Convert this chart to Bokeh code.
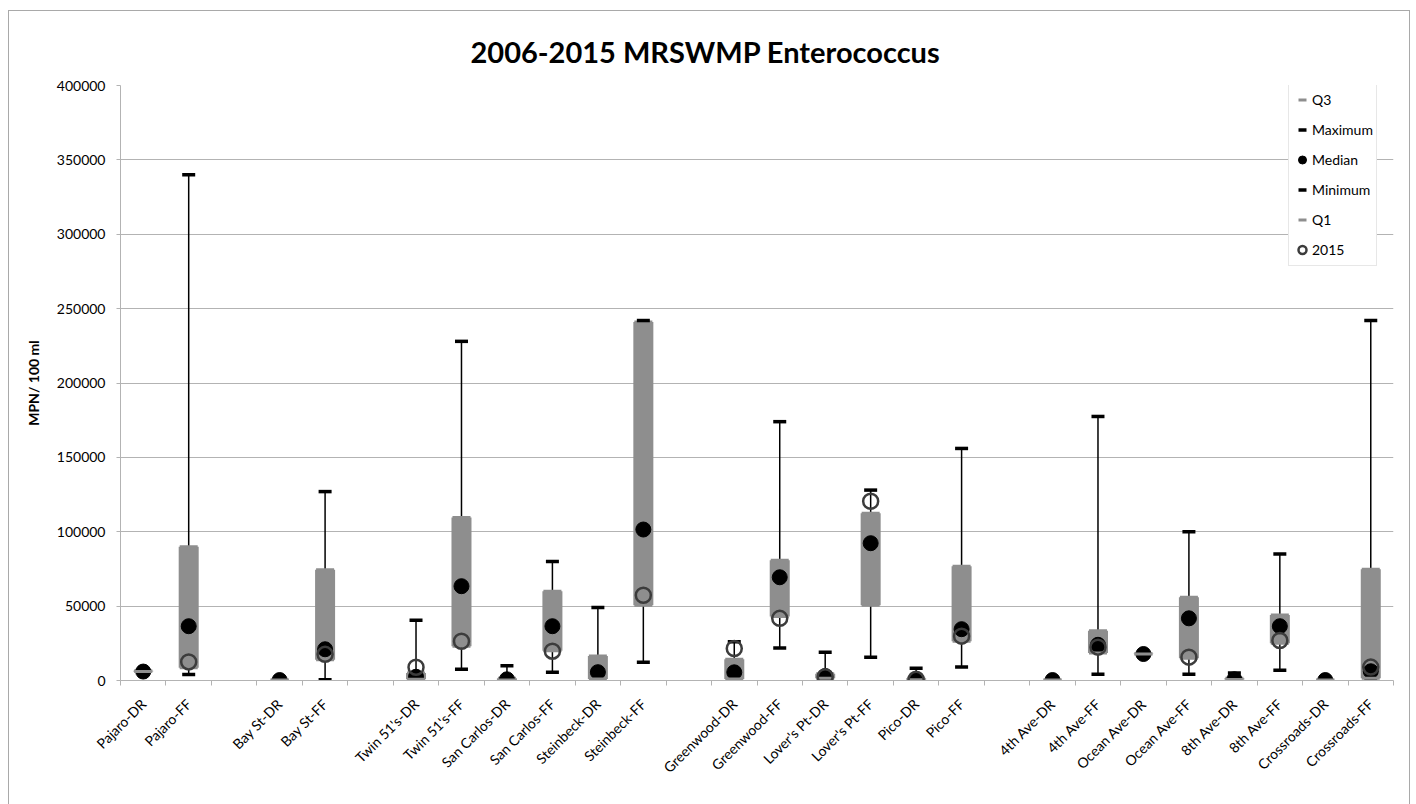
import math
import numpy as np
from bokeh.plotting import figure
from bokeh.models import (ColumnDataSource, FixedTicker, Legend, LegendItem,
                          Range1d, Title, BasicTickFormatter)
from bokeh.embed import file_html
from bokeh.resources import INLINE

# ---- data ----
categories = ["Pajaro-DR", "Pajaro-FF", "", "Bay St-DR", "Bay St-FF", "",
              "Twin 51's-DR", "Twin 51's-FF", "San Carlos-DR", "San Carlos-FF",
              "Steinbeck-DR", "Steinbeck-FF", "", "Greenwood-DR", "Greenwood-FF",
              "Lover's Pt-DR", "Lover's Pt-FF", "Pico-DR", "Pico-FF", "",
              "4th Ave-DR", "4th Ave-FF", "Ocean Ave-DR", "Ocean Ave-FF",
              "8th Ave-DR", "8th Ave-FF", "Crossroads-DR", "Crossroads-FF"]

minimum = [5500, 4000, None, 200, 500, None, 300, 7500, 200, 5600, 500, 12300,
           None, 500, 21900, 500, 15700, 200, 9000, None, 200, 4200, 17500, 4200,
           500, 6900, 200, 500]
q1 = [6000, 8500, None, 300, 14000, None, 800, 23000, 400, 20000, 1000, 50600,
      None, 1000, 43000, 1500, 50600, 500, 26400, None, 300, 18500, 17800, 15000,
      700, 25000, 300, 1500]
median = [6000, 36500, None, 300, 21000, None, 2500, 63400, 800, 36500, 5600, 101500,
          None, 5500, 69400, 3000, 92300, 500, 34500, None, 300, 24000, 17800, 41800,
          800, 36500, 300, 6200]
q3 = [6500, 90000, None, 400, 74500, None, 5000, 109500, 1500, 60000, 16500, 241000,
      None, 14300, 80800, 4500, 112500, 1500, 76800, None, 400, 33500, 18000, 56000,
      1500, 44000, 400, 74800]
maximum = [7000, 340000, None, 600, 127000, None, 40500, 228000, 10000, 80000, 49000, 242000,
           None, 26000, 174000, 19000, 128000, 8300, 156000, None, 500, 177500, 18200, 100000,
           5000, 85000, 500, 242000]
y2015 = [None, 12500, None, None, 17600, None, 8900, 26400, None, 19700, None, 57300,
         None, 21500, 41800, 2500, 120500, 800, 29800, None, None, 22400, None, 15700,
         None, 26900, None, 9000]

y_ticks = [0, 50000, 100000, 150000, 200000, 250000, 300000, 350000, 400000]


def arr(v):
    return [np.nan if a is None else a for a in v]


xs = [i + 0.5 for i in range(len(categories))]
src = ColumnDataSource(dict(x=xs, mn=arr(minimum), q1=arr(q1), med=arr(median),
                            q3=arr(q3), mx=arr(maximum), y15=arr(y2015)))

FONT = "Lato"
GRID = "#b3b3b3"
BOX = "#8e8e8e"

p = figure(width=1402, height=794, x_range=Range1d(0, len(categories)),
           y_range=Range1d(0, 400000), output_backend="svg", toolbar_location=None,
           min_border_left=111, min_border_right=18, min_border_top=74,
           min_border_bottom=125)
p.margin = (10, 0, 0, 8)
p.styles = {"border-left": "1px solid #a9a9a9", "border-top": "1px solid #a9a9a9",
            "border-right": "1px solid #a9a9a9"}
p.outline_line_color = None
p.background_fill_color = "white"

p.title = Title(text="2006-2015 MRSWMP Enterococcus", align="left",
                text_font=FONT, text_font_size="29px", text_font_style="bold",
                text_color="black", offset=350, standoff=34)

# whiskers (high-low lines)
p.segment(x0="x", y0="mn", x1="x", y1="mx", source=src, line_color="black",
          line_width=1.5)
# boxes (Q1..Q3)
p.vbar(x="x", bottom="q1", top="q3", width=0.44, source=src, fill_color=BOX,
       line_color=None)

# series in Excel order: Q3, Maximum, Median, Minimum, Q1, 2015
r_q3 = p.scatter(x="x", y="q3", source=src, marker="dash", size=18,
                 line_color=BOX, line_width=3)
r_max = p.scatter(x="x", y="mx", source=src, marker="dash", size=13,
                  line_color="black", line_width=3.5)
r_med = p.scatter(x="x", y="med", source=src, marker="circle", size=15,
                  fill_color="black", line_color="black")
r_min = p.scatter(x="x", y="mn", source=src, marker="dash", size=13,
                  line_color="black", line_width=3.5)
r_q1 = p.scatter(x="x", y="q1", source=src, marker="dash", size=18,
                 line_color=BOX, line_width=3)
r_15 = p.scatter(x="x", y="y15", source=src, marker="circle", size=15,
                 fill_color=None, line_color="#3c3c3c", line_width=2.5)

legend = Legend(items=[LegendItem(label="Q3", renderers=[r_q3]),
                       LegendItem(label="Maximum", renderers=[r_max]),
                       LegendItem(label="Median", renderers=[r_med]),
                       LegendItem(label="Minimum", renderers=[r_min]),
                       LegendItem(label="Q1", renderers=[r_q1]),
                       LegendItem(label="2015", renderers=[r_15])],
                margin=0, padding=3, spacing=5,
                glyph_width=20, glyph_height=25, label_height=25,
                label_standoff=0, label_text_font=FONT,
                label_text_font_size="14px", label_text_color="black",
                border_line_color="#d0d0d0", border_line_width=1,
                background_fill_color="white", background_fill_alpha=1.0)
p.add_layout(legend)
legend.location = (1168, 414)

# x axis
named = [xs[i] for i, c in enumerate(categories) if c]
p.xaxis.ticker = FixedTicker(ticks=named,
                             minor_ticks=list(range(len(categories) + 1)))
p.xaxis.major_label_overrides = {xs[i]: c for i, c in enumerate(categories) if c}
p.xaxis.major_label_orientation = math.pi / 4
p.xaxis.major_tick_out = 0
p.xaxis.major_tick_in = 0
p.xaxis.minor_tick_out = 5
p.xaxis.minor_tick_in = 0
p.xaxis.minor_tick_line_color = GRID
p.xaxis.axis_line_color = GRID
p.xaxis.major_label_text_font = FONT
p.xaxis.major_label_text_font_size = "14px"
p.xaxis.major_label_text_color = "black"
p.xaxis.major_label_standoff = 16
p.xgrid.visible = False

# y axis
p.yaxis.ticker = FixedTicker(ticks=y_ticks)
p.yaxis.formatter = BasicTickFormatter(use_scientific=False)
p.yaxis.minor_tick_line_color = None
p.yaxis.major_tick_out = 4
p.yaxis.major_tick_in = 0
p.yaxis.major_tick_line_color = GRID
p.yaxis.axis_line_color = GRID
p.yaxis.major_label_text_font = FONT
p.yaxis.major_label_text_font_size = "14px"
p.yaxis.major_label_text_color = "black"
p.yaxis.major_label_standoff = 11
p.yaxis.axis_label = "MPN/ 100 ml"
p.yaxis.axis_label_text_font = FONT
p.yaxis.axis_label_text_font_size = "14px"
p.yaxis.axis_label_text_font_style = "bold"
p.yaxis.axis_label_text_color = "black"
p.yaxis.axis_label_standoff = 12
p.ygrid.ticker = FixedTicker(ticks=y_ticks)
p.ygrid.grid_line_color = GRID
p.ygrid.grid_line_width = 1

open("out.html", "w").write(file_html(p, INLINE))
